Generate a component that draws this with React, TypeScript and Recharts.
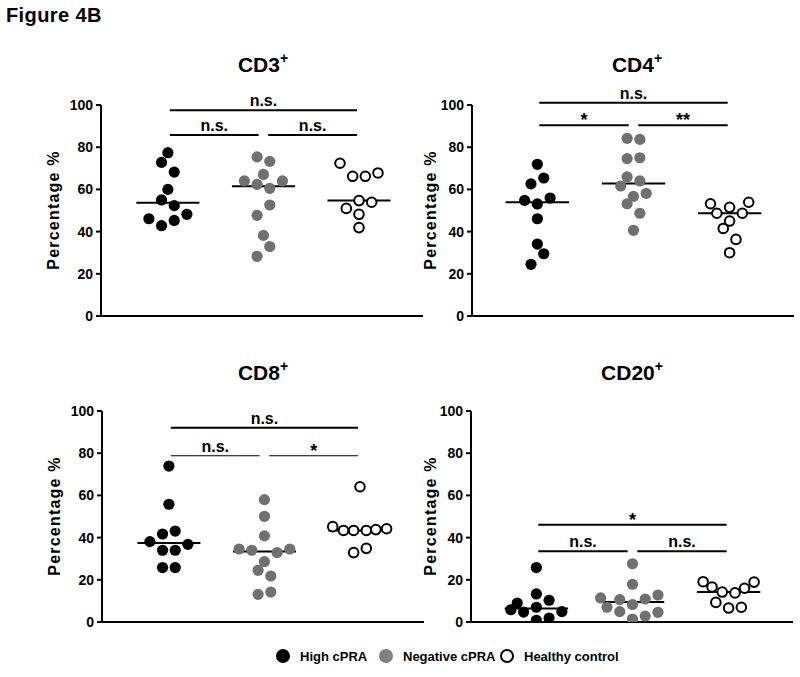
import React from 'react';
import { ScatterChart, Scatter, XAxis, YAxis, ReferenceLine } from 'recharts';

const FONT = 'Arial, "Liberation Sans", Helvetica, sans-serif';

// groups (x = 1, 2, 3)
const groupNames = ['High cPRA', 'Negative cPRA', 'Healthy control'];
const yTicks = [0, 20, 40, 60, 80, 100];

// values; slots = horizontal jitter step used in the dot plot
const cd3High = [77.4, 72.8, 68.2, 60.0, 55.0, 52.3, 48.2, 46.1, 45.3, 42.8];
const cd3HighSlots = [0, -1, 1, 0, -1, 1, 3, -3, 1, -1];
const cd3Neg = [75.4, 73.3, 67.1, 64.0, 64.0, 62.4, 60.5, 52.6, 47.7, 38.2, 32.9, 28.3];
const cd3NegSlots = [-1, 1, 0, -3, 3, -1, 1, 1, -1, 0, 1, -1];
const cd3Healthy = [72.4, 67.8, 66.2, 66.2, 54.7, 53.9, 51.0, 48.2, 41.9];
const cd3HealthySlots = [-3, 3, -1, 1, 0, 2, -2, 0, 0];

const cd4High = [71.9, 65.4, 62.6, 55.9, 54.8, 53.1, 46.1, 34.1, 29.5, 24.5];
const cd4HighSlots = [0, 1, -1, 2, -2, 0, 0, 0, 1, -1];
const cd4Neg = [84.2, 83.7, 75.0, 74.6, 65.9, 64.0, 61.6, 58.1, 56.7, 53.2, 48.7, 40.6];
const cd4NegSlots = [-1, 1, 1, -1, -1, 1, -2, 2, 0, -1, 1, 0];
const cd4Healthy = [53.9, 53.2, 51.5, 48.7, 48.7, 45.0, 41.5, 36.3, 30.0];
const cd4HealthySlots = [3, -3, 0, -2, 2, 0, -1, 1, 0];

const cd8High = [73.9, 55.8, 43.1, 41.7, 38.1, 36.8, 34.0, 34.0, 25.8, 25.8];
const cd8HighSlots = [0, 0, 1, -1, -3, 3, -1, 1, -1, 1];
const cd8Neg = [58.0, 50.1, 40.8, 34.6, 34.6, 34.0, 32.9, 28.6, 24.5, 21.8, 14.2, 13.1];
const cd8NegSlots = [0, 0, 0, -4, 4, -2, 2, 0, -1, 1, 1, -1];
const cd8Healthy = [64.1, 45.2, 44.2, 43.8, 43.4, 43.4, 43.4, 34.9, 32.9];
const cd8HealthySlots = [0, -4.3, 4.2, 2.5, -2.6, -1, 1, 1, -1];

const cd20High = [25.8, 13.3, 10.3, 9.0, 7.0, 5.8, 4.9, 4.7, 1.9, 0.8];
const cd20HighSlots = [0, 0, 2, -3, 0, -4, 4, -2, 2, 0];
const cd20Neg = [27.6, 17.9, 12.8, 11.4, 10.9, 10.6, 8.3, 7.0, 4.9, 4.6, 2.8, 1.4];
const cd20NegSlots = [0, 0, 4, -5, 2, -2, 0, -4, -2, 4, 2, 0];
const cd20Healthy = [19.1, 18.9, 16.6, 16.0, 14.2, 13.8, 9.3, 7.0, 6.6];
const cd20HealthySlots = [-4, 4, -2.6, 2.5, -1, 1, -2, 2, 0];

// significance brackets: from group, to group, height, text
const cd3Sig = [
  { from: 1, to: 3, y: 97.5, text: 'n.s.' },
  { from: 1, to: 2, y: 85.8, text: 'n.s.' },
  { from: 2, to: 3, y: 85.8, text: 'n.s.' },
];
const cd4Sig = [
  { from: 1, to: 3, y: 101.1, text: 'n.s.' },
  { from: 1, to: 2, y: 90.4, text: '*' },
  { from: 2, to: 3, y: 90.4, text: '**' },
];
const cd8Sig = [
  { from: 1, to: 3, y: 92.1, text: 'n.s.' },
  { from: 1, to: 2, y: 78.8, text: 'n.s.' },
  { from: 2, to: 3, y: 78.8, text: '*' },
];
const cd20Sig = [
  { from: 1, to: 3, y: 46.1, text: '*' },
  { from: 1, to: 2, y: 33.5, text: 'n.s.' },
  { from: 2, to: 3, y: 33.5, text: 'n.s.' },
];

// layout
const Y_W = 60;
const PLOT_W = 322;
const PLOT_H = 211;
const M_TOP = 40;
const M_RIGHT = 6;
const X_H = 10;
const X_MAX = 3.67;
const SLOT = 0.0663;
const MED_HALF = 0.33;

type Sig = { from: number; to: number; y: number; text: string };

const toPoints = (group: number, values: number[], slots: number[]) =>
  values.map((v, i) => ({ x: group + slots[i] * SLOT, y: v }));

const median = (values: number[]) => {
  const s = [...values].sort((a, b) => a - b);
  const m = Math.floor(s.length / 2);
  return s.length % 2 ? s[m] : (s[m - 1] + s[m]) / 2;
};

const makeDot = (kind: number) => (props: any) => {
  const { cx, cy } = props;
  if (kind === 2) return <circle cx={cx} cy={cy} r={4.8} fill="#fff" stroke="#000" strokeWidth={2} />;
  return <circle cx={cx} cy={cy} r={5.6} fill={kind === 0 ? '#000' : '#707070'} />;
};

function Panel({ left, top, xMin, values, slots, sig, thinLower }: {
  left: number; top: number; xMin: number; values: number[][]; slots: number[][]; sig: Sig[]; thinLower?: boolean;
}) {
  const axisStyle = { stroke: '#000', strokeWidth: 2 };
  return (
    <div style={{ position: 'absolute', left: left - Y_W, top: top - M_TOP }}>
      <ScatterChart
        width={Y_W + PLOT_W + M_RIGHT}
        height={M_TOP + PLOT_H + X_H}
        margin={{ top: M_TOP, right: M_RIGHT, bottom: 0, left: 0 }}
      >
        <XAxis type="number" dataKey="x" domain={[xMin, X_MAX]} ticks={[1, 2, 3]} tick={false}
          tickSize={6} height={X_H} axisLine={axisStyle} tickLine={axisStyle} allowDataOverflow />
        <YAxis type="number" dataKey="y" domain={[0, 100]} ticks={yTicks} width={Y_W} tickSize={5}
          tickMargin={3} axisLine={axisStyle} tickLine={axisStyle} allowDataOverflow
          tick={{ fill: '#000', fontSize: 14, fontWeight: 700, fontFamily: FONT }} />
        {values.map((v, i) => (
          <Scatter key={groupNames[i]} name={groupNames[i]} data={toPoints(i + 1, v, slots[i])}
            shape={makeDot(i)} isAnimationActive={false} />
        ))}
        {values.map((v, i) => (
          <ReferenceLine key={'m' + i} ifOverflow="visible" stroke="#000" strokeWidth={2}
            segment={[{ x: i + 1 - MED_HALF, y: median(v) }, { x: i + 1 + MED_HALF, y: median(v) }]} />
        ))}
        {sig.map((s, i) => {
          const x1 = s.from + (s.from === 2 ? 0.05 : 0.02);
          const x2 = s.to - (s.to === 2 ? 0.05 : 0.02);
          const ns = s.text === 'n.s.';
          return (
            <ReferenceLine key={'s' + i} ifOverflow="visible" stroke="#000"
              strokeWidth={thinLower && s.to - s.from === 1 ? 1.2 : 2}
              segment={[{ x: x1, y: s.y }, { x: x2, y: s.y }]}
              label={{ value: s.text, position: 'top', offset: ns ? 4 : -1, fill: '#000',
                fontSize: ns ? 16 : 18, fontWeight: 700, fontFamily: FONT }} />
          );
        })}
      </ScatterChart>
    </div>
  );
}

function Title({ x, y, text }: { x: number; y: number; text: string }) {
  return (
    <text x={x} y={y} textAnchor="middle" fontSize={21} fontWeight={700} fill="#000">
      {text}<tspan dy={-9} fontSize={14}>+</tspan>
    </text>
  );
}

function YLabel({ x, y }: { x: number; y: number }) {
  return (
    <text transform={`translate(${x},${y}) rotate(-90)`} textAnchor="middle" dominantBaseline="central"
      fontSize={16} fontWeight={700} letterSpacing={1.2} fill="#000">Percentage %</text>
  );
}

export default function App() {
  return (
    <div style={{ position: 'absolute', left: 0, top: 0, width: 800, height: 677, background: '#fff', fontFamily: FONT }}>
      <svg width={800} height={677} style={{ position: 'absolute', left: 0, top: 0 }} fontFamily={FONT}>
        <text x={6} y={22} fontSize={20} fontWeight={700} letterSpacing={0.4} fill="#000">Figure 4B</text>
        <Title x={263} y={72} text="CD3" />
        <Title x={637} y={72} text="CD4" />
        <Title x={263} y={380} text="CD8" />
        <Title x={632} y={380} text="CD20" />
        <YLabel x={53} y={210} />
        <YLabel x={430} y={210} />
        <YLabel x={54} y={516} />
        <YLabel x={430} y={516} />
        <circle cx={283} cy={656} r={7} fill="#000" />
        <text x={300} y={661} fontSize={13} fontWeight={700} fill="#000">{groupNames[0]}</text>
        <circle cx={386} cy={656} r={7} fill="#808080" />
        <text x={403} y={661} fontSize={13} fontWeight={700} fill="#000">{groupNames[1]}</text>
        <circle cx={507} cy={656} r={6} fill="#fff" stroke="#000" strokeWidth={2} />
        <text x={524} y={661} fontSize={13} fontWeight={700} fill="#000">{groupNames[2]}</text>
      </svg>
      <Panel left={101} top={105} xMin={0.3}
        values={[cd3High, cd3Neg, cd3Healthy]} slots={[cd3HighSlots, cd3NegSlots, cd3HealthySlots]} sig={cd3Sig} />
      <Panel left={472} top={105} xMin={0.32}
        values={[cd4High, cd4Neg, cd4Healthy]} slots={[cd4HighSlots, cd4NegSlots, cd4HealthySlots]} sig={cd4Sig} />
      <Panel left={102} top={411} xMin={0.3}
        values={[cd8High, cd8Neg, cd8Healthy]} slots={[cd8HighSlots, cd8NegSlots, cd8HealthySlots]} sig={cd8Sig} thinLower />
      <Panel left={471} top={411} xMin={0.32}
        values={[cd20High, cd20Neg, cd20Healthy]} slots={[cd20HighSlots, cd20NegSlots, cd20HealthySlots]} sig={cd20Sig} />
    </div>
  );
}
